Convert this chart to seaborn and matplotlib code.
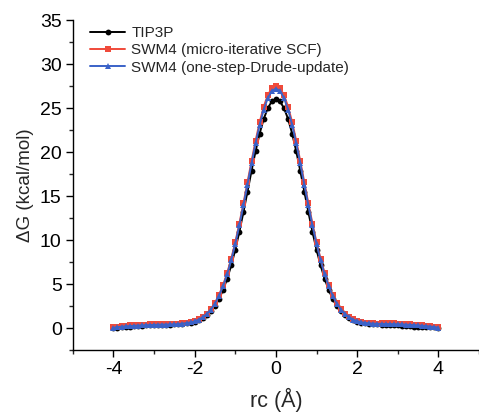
import numpy as np
import pandas as pd
import seaborn as sns
import matplotlib
matplotlib.use("Agg")
import matplotlib.pyplot as plt
from matplotlib.ticker import MultipleLocator

# reaction coordinate (Å), -4 .. 4 in steps of 0.1
rc = [round(-4.0 + 0.1 * i, 1) for i in range(81)]

tip3p = [0.00, 0.05, 0.10, 0.14, 0.18, 0.21, 0.25, 0.29, 0.32, 0.35, 0.38, 0.40, 0.41, 0.42, 0.42, 0.43,
         0.45, 0.50, 0.55, 0.62, 0.73,
         0.90, 1.14, 1.47, 1.92, 2.52, 3.32, 4.35, 5.62, 7.14, 8.92,
         10.95, 13.18, 15.52, 17.88, 20.12, 22.12, 23.78, 25.00, 25.78, 26.05,
         25.78, 25.00, 23.78, 22.12, 20.12, 17.88, 15.52, 13.18, 10.95, 8.92,
         7.14, 5.62, 4.35, 3.32, 2.52, 1.92, 1.47, 1.14, 0.90, 0.73,
         0.62, 0.55, 0.50, 0.46, 0.44, 0.42, 0.41, 0.40, 0.38, 0.35,
         0.30, 0.25, 0.20, 0.16, 0.14, 0.14, 0.15, 0.14, 0.10, 0.05]

swm4_scf = [0.10, 0.18, 0.24, 0.28, 0.31, 0.34, 0.37, 0.39, 0.41, 0.43, 0.46, 0.49, 0.51, 0.50, 0.48, 0.47,
            0.49, 0.54, 0.60, 0.68, 0.80,
            1.00, 1.28, 1.66, 2.18, 2.88, 3.78, 4.90, 6.26, 7.88, 9.76,
            11.88, 14.17, 16.56, 18.98, 21.30, 23.40, 25.17, 26.48, 27.28, 27.52,
            27.28, 26.48, 25.17, 23.40, 21.30, 18.98, 16.56, 14.17, 11.88, 9.76,
            7.88, 6.26, 4.90, 3.78, 2.88, 2.18, 1.66, 1.28, 1.00, 0.82,
            0.70, 0.62, 0.57, 0.54, 0.53, 0.54, 0.56, 0.56, 0.54, 0.52,
            0.49, 0.46, 0.43, 0.40, 0.37, 0.33, 0.29, 0.24, 0.18, 0.10]

swm4_drude = [0.05, 0.12, 0.17, 0.21, 0.24, 0.27, 0.30, 0.32, 0.34, 0.36, 0.38, 0.40, 0.41, 0.42, 0.43, 0.44,
              0.47, 0.52, 0.58, 0.66, 0.78,
              0.98, 1.25, 1.62, 2.12, 2.80, 3.68, 4.78, 6.12, 7.72, 9.58,
              11.68, 13.95, 16.32, 18.72, 21.02, 23.10, 24.85, 26.15, 26.95, 27.22,
              26.95, 26.15, 24.85, 23.10, 21.02, 18.72, 16.32, 13.95, 11.68, 9.58,
              7.72, 6.12, 4.78, 3.68, 2.80, 2.12, 1.62, 1.25, 0.98, 0.80,
              0.68, 0.60, 0.55, 0.52, 0.50, 0.49, 0.48, 0.47, 0.46, 0.45,
              0.43, 0.41, 0.38, 0.35, 0.32, 0.28, 0.24, 0.19, 0.13, 0.06]

labels = ["TIP3P", "SWM4 (micro-iterative SCF)", "SWM4 (one-step-Drude-update)"]
colors = ["#000000", "#f04a3a", "#3a62c8"]
markers = ["o", "s", "^"]

sns.set_style("ticks")
plt.rcParams["font.family"] = ["Liberation Sans", "DejaVu Sans"]
plt.rcParams["axes.unicode_minus"] = False

fig = plt.figure(figsize=(4.79, 4.12), dpi=100)
ax = fig.add_axes([0.152, 0.150, 0.848, 0.801])

for lab, ys, c, m in zip(labels, [tip3p, swm4_scf, swm4_drude], colors, markers):
    df = pd.DataFrame({"rc": rc, "dG": ys})
    sns.lineplot(data=df, x="rc", y="dG", ax=ax, color=c, marker=m, markersize=4.2,
                 markeredgewidth=0, linewidth=1.4, label=lab)

ax.set_xlim(-5, 5)
ax.set_ylim(-2.5, 35)
ax.xaxis.set_major_locator(MultipleLocator(2))
ax.xaxis.set_minor_locator(MultipleLocator(1))
ax.yaxis.set_major_locator(MultipleLocator(5))
ax.yaxis.set_minor_locator(MultipleLocator(2.5))
ax.tick_params(axis="both", which="major", direction="out", length=5, width=1,
               labelsize=14, colors="black", pad=3)
ax.tick_params(axis="both", which="minor", direction="out", length=3, width=1)
for s in ["top", "right"]:
    ax.spines[s].set_visible(False)
for s in ["left", "bottom"]:
    ax.spines[s].set_linewidth(1.0)
    ax.spines[s].set_color("black")

ax.set_xlabel("rc (Å)", fontsize=15.5, labelpad=7)
ax.set_ylabel("ΔG (kcal/mol)", fontsize=13.5, labelpad=4)

leg = ax.legend(loc="upper left", bbox_to_anchor=(0.02, 1.01), frameon=False,
                fontsize=11, handlelength=2.3, handletextpad=0.4, labelspacing=0.22,
                borderaxespad=0.2)

fig.savefig("out.png", dpi=100)
